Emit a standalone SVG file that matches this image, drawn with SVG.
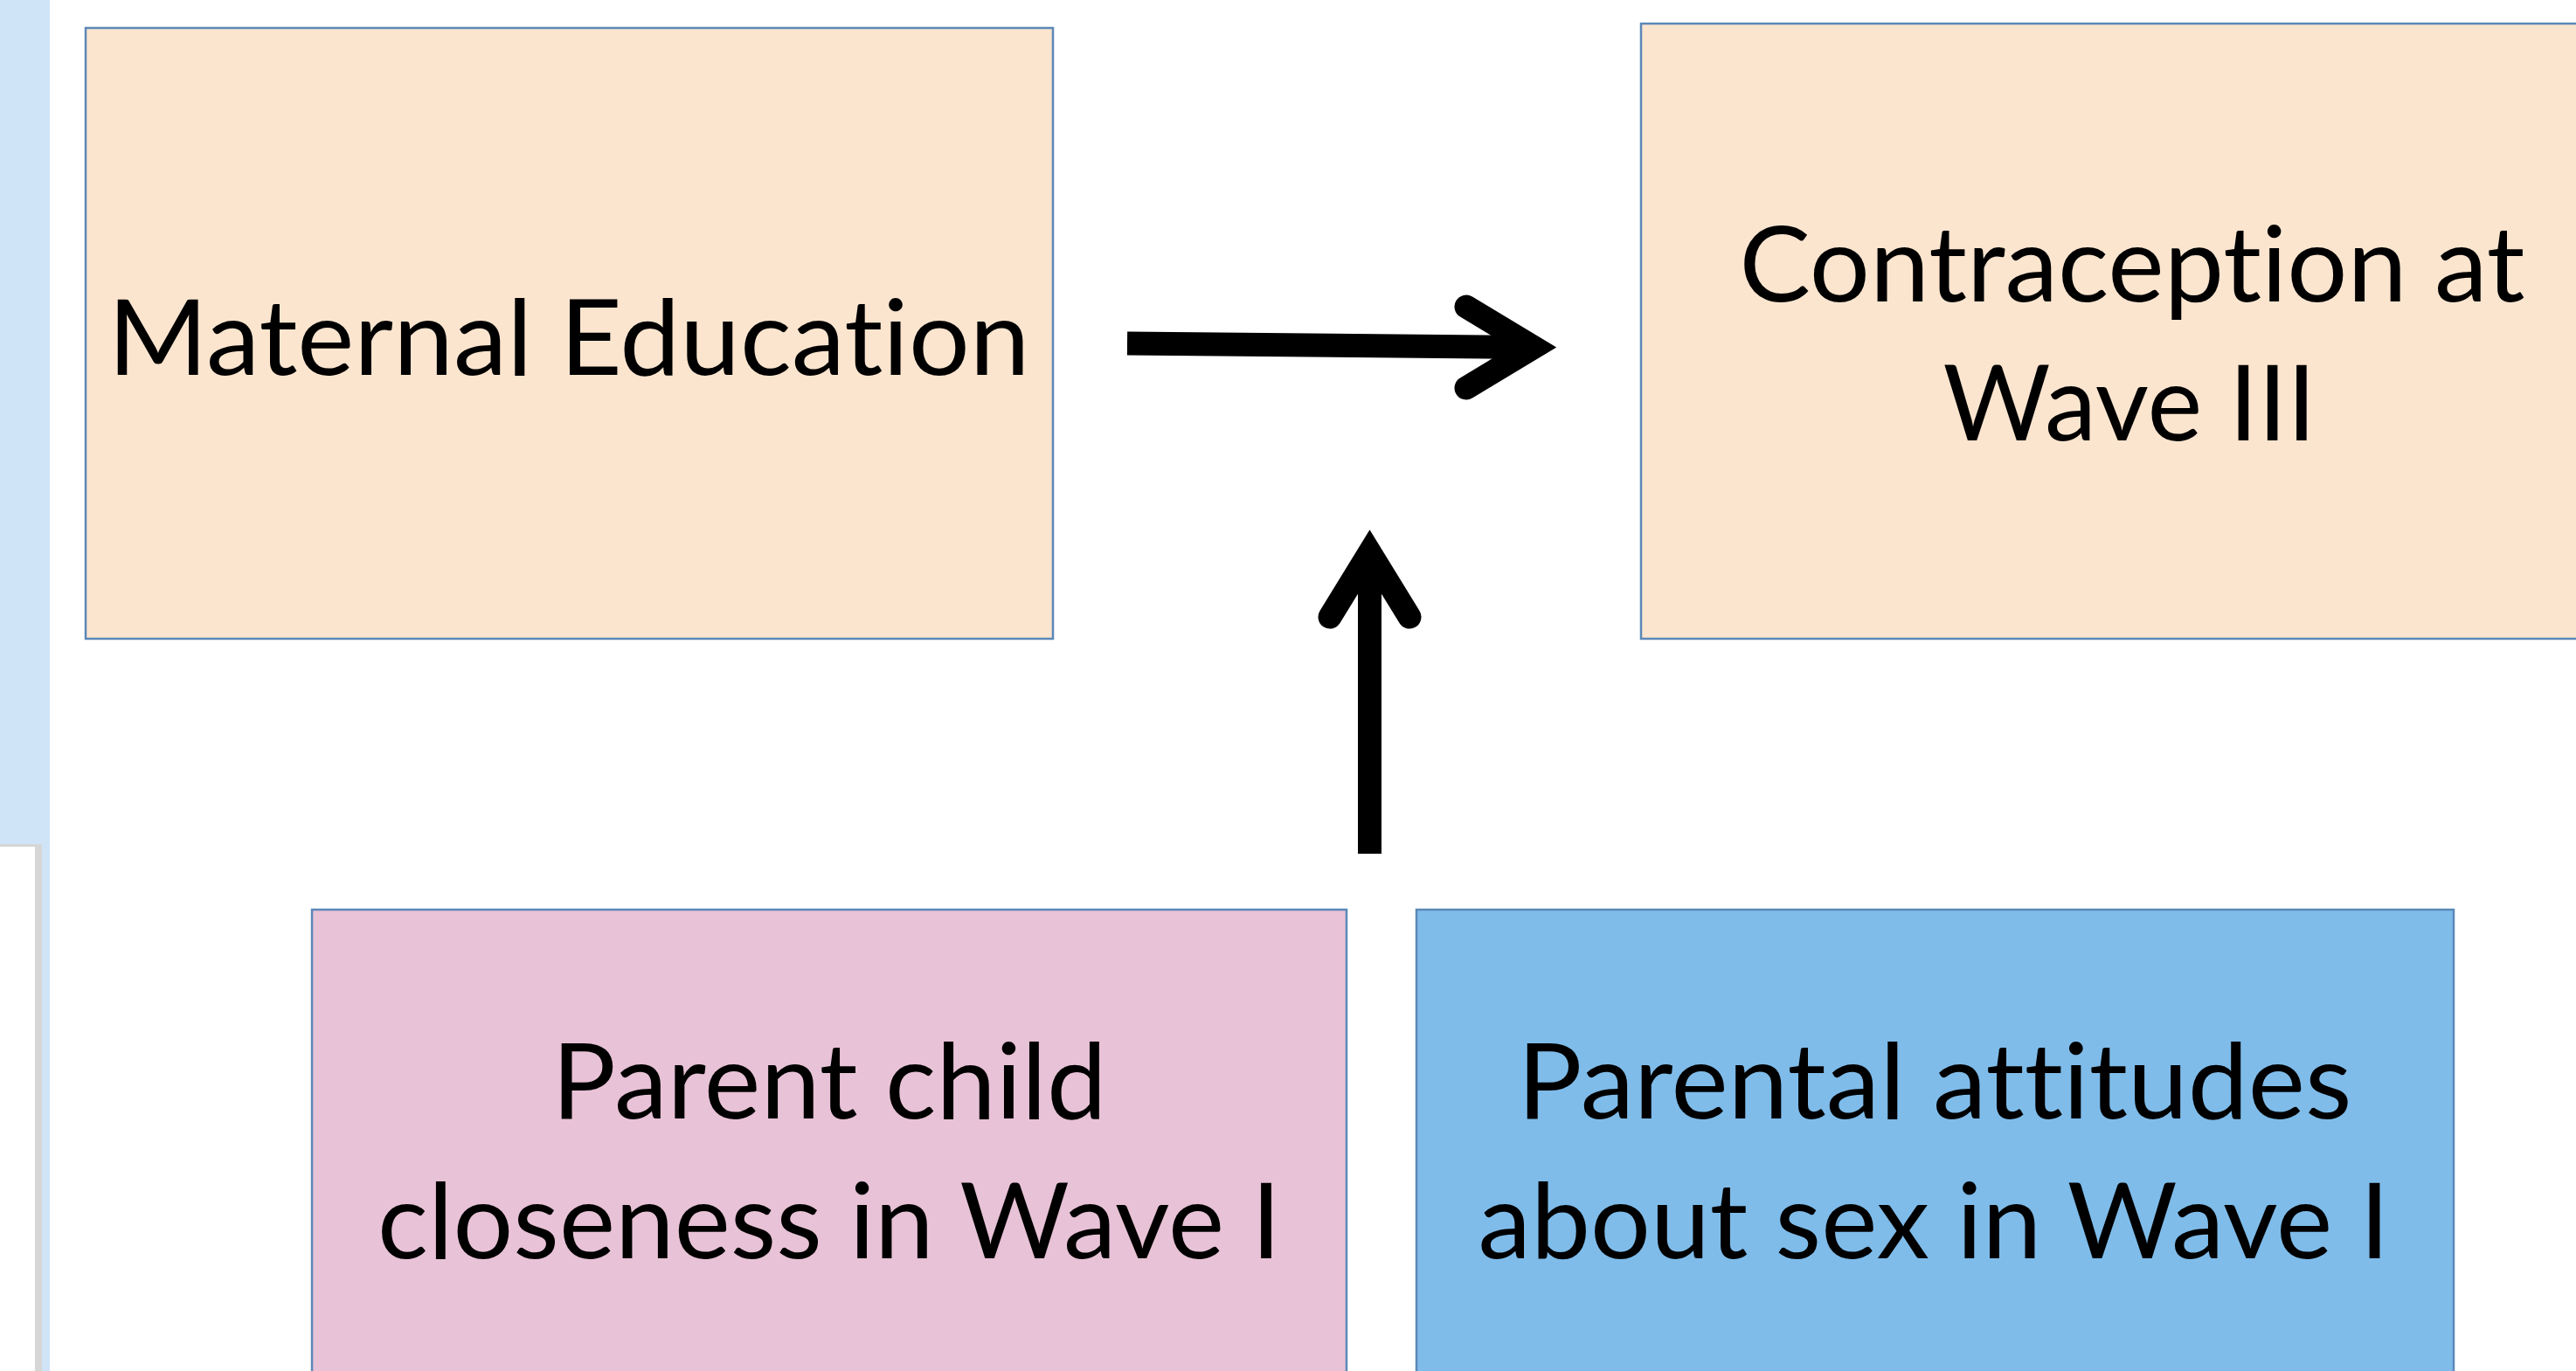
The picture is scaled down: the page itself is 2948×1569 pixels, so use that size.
<svg xmlns="http://www.w3.org/2000/svg" width="2948" height="1569" viewBox="0 0 2948 1569">
<style>
.box{stroke:#5B88B8;stroke-width:2.5}
.peach{fill:#FBE5CF}
.pink{fill:#E8C2D6}
.blue{fill:#7FBCEA}
.lbl{font-family:Lato,"Open Sans","Liberation Sans",sans-serif;font-size:121px;fill:#000;text-anchor:middle;font-variant-ligatures:none;font-feature-settings:"liga" 0,"clig" 0}
.conn{fill:none;stroke:#000;stroke-width:27}
</style>
<rect x="0" y="0" width="2948" height="1569" fill="#FFFFFF"/>
<g id="sidebar">
<rect x="0" y="0" width="57" height="1569" fill="#CFE4F7"/>
<rect x="0" y="966" width="48" height="603" fill="#D6D6D6"/>
<rect x="0" y="969" width="40" height="600" fill="#FFFFFF"/>
</g>
<g id="node-maternal">
<rect class="box peach" x="98" y="32" width="1107" height="699"/>
<text class="lbl" x="651" y="429" textLength="1055" lengthAdjust="spacingAndGlyphs">Maternal Education</text>
</g>
<g id="node-contraception">
<rect class="box peach" x="1878" y="27" width="1140" height="704"/>
<text class="lbl" x="2440" y="345" textLength="899" lengthAdjust="spacingAndGlyphs">Contraception at</text>
<text class="lbl" x="2437" y="504" textLength="427" lengthAdjust="spacingAndGlyphs">Wave III</text>
</g>
<g id="node-closeness">
<rect class="box pink" x="357" y="1041" width="1184" height="560"/>
<text class="lbl" x="949" y="1280" textLength="635" lengthAdjust="spacingAndGlyphs">Parent child</text>
<text class="lbl" x="949" y="1440" textLength="1034" lengthAdjust="spacingAndGlyphs">closeness in Wave I</text>
</g>
<g id="node-attitudes">
<rect class="box blue" x="1621" y="1041" width="1187" height="560"/>
<text class="lbl" x="2214" y="1280" textLength="955" lengthAdjust="spacingAndGlyphs">Parental attitudes</text>
<text class="lbl" x="2213" y="1440" textLength="1043" lengthAdjust="spacingAndGlyphs">about sex in Wave I</text>
</g>
<g id="connectors">
<line class="conn" x1="1290" y1="393" x2="1750" y2="397.5" stroke-linecap="butt"/>
<polyline class="conn" points="1678,351 1755,397.5 1678,444" stroke-linecap="round" stroke-linejoin="miter" stroke-miterlimit="10"/>
<line class="conn" x1="1567.5" y1="977" x2="1567.5" y2="640" stroke-linecap="butt"/>
<polyline class="conn" points="1522,706 1567.5,632 1613,706" stroke-linecap="round" stroke-linejoin="miter" stroke-miterlimit="10"/>
</g>
</svg>
